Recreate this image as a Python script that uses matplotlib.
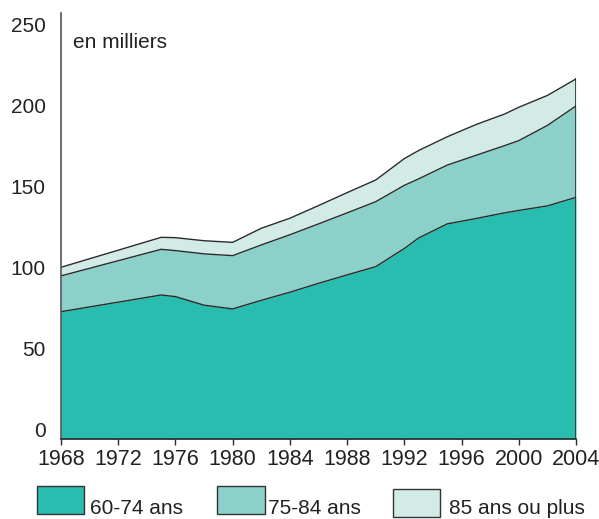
import matplotlib
matplotlib.use("Agg")
import matplotlib.pyplot as plt
from matplotlib.patches import Rectangle
import numpy as np

plt.rcParams['font.family'] = ['Liberation Sans', 'DejaVu Sans']

years = [1968, 1975, 1976, 1978, 1980, 1982, 1984, 1986, 1988, 1990,
         1992, 1993, 1995, 1997, 1999, 2000, 2002, 2004]
g_60_74 = [73.0, 83.3, 82.3, 77.0, 74.7, 80.0, 85.0, 90.5, 95.7, 100.8,
           112.0, 118.5, 127.2, 130.5, 134.0, 135.5, 138.3, 143.6]
g_75_84 = [22.1, 28.2, 28.4, 31.7, 32.9, 34.2, 35.5, 36.7, 38.3, 40.1,
           39.0, 36.5, 36.3, 39.0, 41.5, 43.1, 49.7, 56.4]
g_85_plus = [5.3, 7.4, 8.0, 8.1, 8.2, 10.3, 10.2, 11.3, 12.5, 13.4,
             16.5, 17.5, 17.5, 19.0, 19.5, 20.6, 18.5, 16.7]
labels = ["60-74 ans", "75-84 ans", "85 ans ou plus"]
colors = ["#29bdb0", "#8bd1ca", "#d2ebe7"]
xticks = [1968, 1972, 1976, 1980, 1984, 1988, 1992, 1996, 2000, 2004]
yticks = [0, 50, 100, 150, 200, 250]

W, H = 599, 519
fig = plt.figure(figsize=(W / 100, H / 100), dpi=100)
ax = fig.add_axes([61 / W, 1 - 439 / H, 515 / W, 426 / H])
ymin, ymax = -5.6, 257.4
ax.set_ylim(ymin, ymax)
ax.set_xlim(years[0], years[-1])

y1 = np.array(g_60_74)
y2 = y1 + np.array(g_75_84)
y3 = y2 + np.array(g_85_plus)
ax.fill_between(years, ymin, y1, color=colors[0], lw=0)
ax.fill_between(years, y1, y2, color=colors[1], lw=0)
ax.fill_between(years, y2, y3, color=colors[2], lw=0)
for y in (y1, y2, y3):
    ax.plot(years, y, color="#2b2b2b", lw=1.0, solid_joinstyle="round")
ax.plot([years[-1], years[-1]], [ymin, y3[-1]], color="#2b2b2b", lw=1.2)

for s in ("top", "right"):
    ax.spines[s].set_visible(False)
ax.spines["left"].set_color("#555555")
ax.spines["left"].set_linewidth(1.2)
ax.spines["bottom"].set_color("#2b2b2b")
ax.spines["bottom"].set_linewidth(1.2)

ax.set_xticks(xticks)
ax.set_xticklabels([str(t) for t in xticks])
ax.set_yticks(yticks)
ax.tick_params(axis="x", length=4.5, width=1, color="#2b2b2b", pad=3,
               labelsize=15.5, labelcolor="#222222")
ax.tick_params(axis="y", length=0, pad=11, labelsize=15, labelcolor="#222222")

fig.text(73 / W, 1 - 42 / H, "en milliers", fontsize=15, color="#222222",
         va="center", ha="left")

# legend
boxes = [(37, 486, 47, 28, 90), (217, 486, 48, 28, 268), (393, 489, 47, 28, 449)]
for (bx, by, bw, bh, tx), lab, c in zip(boxes, labels, colors):
    fig.patches.append(Rectangle((bx / W, 1 - (by + bh) / H), bw / W, bh / H,
                                 transform=fig.transFigure, facecolor=c,
                                 edgecolor="#333333", lw=1.0))
    fig.text(tx / W, 1 - 508 / H, lab, fontsize=15, color="#222222",
             va="center", ha="left")

fig.savefig("out.png", dpi=100)
